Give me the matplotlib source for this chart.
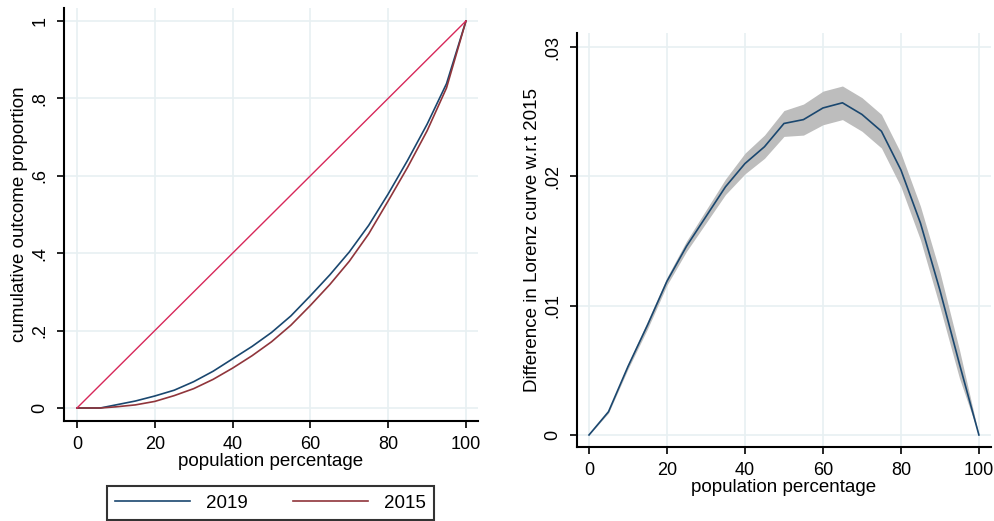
import numpy as np
import matplotlib.pyplot as plt

plt.rcParams['font.family'] = ['Liberation Sans', 'DejaVu Sans']

# Lorenz curves (population percentage vs cumulative outcome proportion)
pop = [0, 6, 10, 15, 20, 25, 30, 35, 40, 45, 50, 55, 60, 65, 70, 75, 80, 85, 90, 95, 100]
lorenz_2019 = [0, 0.0, 0.008, 0.018, 0.031, 0.046, 0.068, 0.095, 0.127, 0.159, 0.195, 0.238,
               0.290, 0.344, 0.403, 0.472, 0.553, 0.640, 0.733, 0.838, 1.0]
lorenz_2015 = [0, 0.0, 0.003, 0.008, 0.017, 0.032, 0.050, 0.074, 0.103, 0.135, 0.171, 0.214,
               0.265, 0.319, 0.379, 0.450, 0.535, 0.622, 0.716, 0.827, 1.0]
equality_x = [0, 50, 100]
equality_y = [0, 0.5, 1.0]

# Difference in Lorenz curve and its confidence band
diff_x = [0, 5, 10, 15, 20, 25, 30, 35, 40, 45, 50, 55, 60, 65, 70, 75, 80, 85, 90, 95, 100]
diff = [0, 0.0018, 0.0053, 0.0085, 0.0119, 0.0146, 0.0169, 0.0192, 0.0210, 0.0223, 0.0241,
        0.0244, 0.0253, 0.0257, 0.0248, 0.0235, 0.0205, 0.0164, 0.0112, 0.0055, 0]
diff_lo = [0, 0.0017, 0.0051, 0.0082, 0.0116, 0.0142, 0.0164, 0.0186, 0.0202, 0.0214, 0.0231,
           0.0232, 0.0240, 0.0244, 0.0235, 0.0222, 0.0192, 0.0151, 0.0099, 0.0044, 0]
diff_hi = [0, 0.0019, 0.0055, 0.0088, 0.0122, 0.0150, 0.0174, 0.0198, 0.0218, 0.0232, 0.0251,
           0.0256, 0.0266, 0.0270, 0.0261, 0.0248, 0.0218, 0.0177, 0.0126, 0.0066, 0]

NAVY = '#1a476f'
MAROON = '#90353b'
CRIMSON = '#d7285a'
GRID = '#e8f0f2'
TICK_FS = 13
LABEL_FS = 13.5


def style_axes(ax):
    ax.spines['top'].set_visible(False)
    ax.spines['right'].set_visible(False)
    ax.spines['left'].set_linewidth(1.5)
    ax.spines['bottom'].set_linewidth(1.5)
    ax.grid(True, color=GRID, linewidth=1.2)
    ax.set_axisbelow(True)
    ax.tick_params(direction='out', length=5, width=1.2, pad=6, labelsize=TICK_FS)
    for lab in ax.get_yticklabels():
        lab.set_rotation(90)
        lab.set_va('center')


fig = plt.figure(figsize=(9.95, 5.21), dpi=100)

# left panel
ax1 = fig.add_axes([64 / 995, 1 - 421 / 521, 414 / 995, 413 / 521])
ax1.plot(pop, lorenz_2019, color=NAVY, lw=1.2, label='2019')
ax1.plot(pop, lorenz_2015, color=MAROON, lw=1.2, label='2015')
ax1.plot(equality_x, equality_y, color=CRIMSON, lw=1.0)
ax1.set_xlim(-3.34, 103.1)
ax1.set_ylim(-0.0336, 1.0336)
ax1.set_xticks([0, 20, 40, 60, 80, 100])
ax1.set_yticks([0, 0.2, 0.4, 0.6, 0.8, 1.0])
ax1.set_yticklabels(['0', '.2', '.4', '.6', '.8', '1'])
style_axes(ax1)
ax1.set_xlabel('population percentage', fontsize=LABEL_FS, labelpad=0)
ax1.set_ylabel('cumulative outcome proportion', fontsize=LABEL_FS, labelpad=3)

fig.legend(loc='upper left', bbox_to_anchor=(107 / 995, 1 - 486 / 521), ncol=2,
           fontsize=LABEL_FS, frameon=True, fancybox=False, edgecolor='black',
           handlelength=4.0, handletextpad=0.85, columnspacing=2.4, borderpad=0.45,
           borderaxespad=0)
fig.legends[0].get_frame().set_linewidth(1.5)

# right panel
ax2 = fig.add_axes([577 / 995, 1 - 447 / 521, 414 / 995, 414 / 521])
ax2.fill_between(diff_x, diff_lo, diff_hi, color='#bdbdbd', lw=0)
ax2.plot(diff_x, diff, color=NAVY, lw=1.2)
ax2.set_xlim(-3.08, 103.1)
ax2.set_ylim(-0.00093, 0.0311)
ax2.set_xticks([0, 20, 40, 60, 80, 100])
ax2.set_yticks([0, 0.01, 0.02, 0.03])
ax2.set_yticklabels(['0', '.01', '.02', '.03'])
style_axes(ax2)
ax2.set_xlabel('population percentage', fontsize=LABEL_FS, labelpad=0)
ax2.set_ylabel('Difference in Lorenz curve w.r.t 2015', fontsize=LABEL_FS, labelpad=3)

fig.savefig('out.png', dpi=100)
